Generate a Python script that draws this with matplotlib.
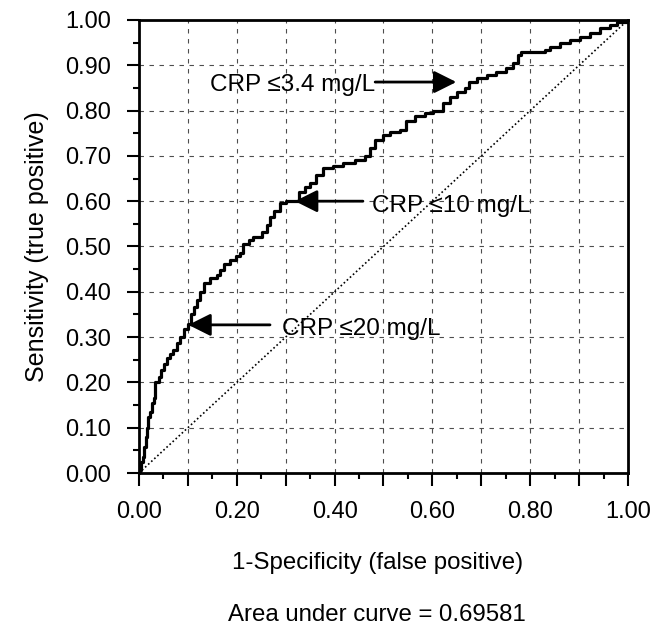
import matplotlib
matplotlib.use("Agg")
import matplotlib.pyplot as plt
from matplotlib.ticker import MultipleLocator, FixedLocator, FixedFormatter

plt.rcParams['font.family'] = ['Liberation Sans', 'DejaVu Sans']

# ROC curve (1-specificity, sensitivity)
fpr = [0.000, 0.002, 0.004, 0.008, 0.010, 0.014, 0.016, 0.019, 0.022, 0.026,
       0.030, 0.033, 0.040, 0.046, 0.052, 0.057, 0.064, 0.070, 0.077, 0.084,
       0.092, 0.100, 0.106, 0.112, 0.118, 0.125, 0.132, 0.145, 0.159, 0.166,
       0.173, 0.186, 0.198, 0.207, 0.213, 0.224, 0.234, 0.251, 0.261, 0.268,
       0.277, 0.288, 0.300, 0.316, 0.328, 0.340, 0.350, 0.363, 0.377, 0.397,
       0.418, 0.442, 0.462, 0.472, 0.483, 0.500, 0.513, 0.534, 0.547, 0.564,
       0.585, 0.602, 0.622, 0.636, 0.650, 0.667, 0.674, 0.691, 0.711, 0.731,
       0.751, 0.765, 0.775, 0.782, 0.806, 0.830, 0.840, 0.861, 0.881, 0.902,
       0.922, 0.943, 0.963, 0.977, 1.000]
tpr = [0.000, 0.007, 0.025, 0.035, 0.058, 0.080, 0.100, 0.124, 0.135, 0.154,
       0.165, 0.200, 0.212, 0.227, 0.240, 0.253, 0.262, 0.271, 0.287, 0.300,
       0.318, 0.330, 0.350, 0.366, 0.382, 0.400, 0.419, 0.430, 0.437, 0.448,
       0.461, 0.470, 0.478, 0.485, 0.505, 0.515, 0.522, 0.533, 0.547, 0.565,
       0.578, 0.595, 0.600, 0.600, 0.621, 0.632, 0.640, 0.658, 0.673, 0.678,
       0.684, 0.691, 0.700, 0.717, 0.735, 0.746, 0.753, 0.757, 0.776, 0.787,
       0.794, 0.800, 0.816, 0.829, 0.842, 0.849, 0.864, 0.871, 0.879, 0.886,
       0.893, 0.904, 0.923, 0.930, 0.930, 0.934, 0.941, 0.949, 0.956, 0.963,
       0.972, 0.982, 0.989, 0.996, 1.000]

# cut-off annotations: label, arrow tip, arrow tail, text start
cut_labels = ["CRP \u22643.4 mg/L", "CRP \u226410 mg/L", "CRP \u226420 mg/L"]
cut_tips = [(0.649, 0.863), (0.319, 0.600), (0.101, 0.327)]
cut_tails = [(0.483, 0.863), (0.458, 0.600), (0.268, 0.327)]
cut_text = [(0.145, 0.856), (0.476, 0.590), (0.292, 0.318)]

ticks = [0.0, 0.1, 0.2, 0.3, 0.4, 0.5, 0.6, 0.7, 0.8, 0.9, 1.0]
x_tick_labels = ["0.00", "", "0.20", "", "0.40", "", "0.60", "", "0.80", "", "1.00"]
y_tick_labels = ["0.00", "0.10", "0.20", "0.30", "0.40", "0.50",
                 "0.60", "0.70", "0.80", "0.90", "1.00"]
auc_text = "Area under curve = 0.69581"

fig = plt.figure(figsize=(6.54, 6.28), dpi=100)
ax = fig.add_axes([0.2125, 0.2468, 0.7477, 0.7214])

ax.plot([0, 1], [0, 1], color='black', lw=1.2, ls=(0, (1, 1.5)))
ax.plot(fpr, tpr, color='black', lw=2.3, drawstyle='steps-post')

for lab, tip, tail, tx in zip(cut_labels, cut_tips, cut_tails, cut_text):
    ax.annotate("", xy=tip, xytext=tail,
                arrowprops=dict(arrowstyle='-|>', color='black', lw=2,
                                mutation_scale=34, shrinkA=0, shrinkB=0))
    ax.text(tx[0], tx[1], lab, fontsize=17.5, ha='left', va='center')

ax.set_xlim(0, 1)
ax.set_ylim(0, 1)
ax.xaxis.set_major_locator(FixedLocator(ticks))
ax.xaxis.set_major_formatter(FixedFormatter(x_tick_labels))
ax.yaxis.set_major_locator(FixedLocator(ticks))
ax.yaxis.set_major_formatter(FixedFormatter(y_tick_labels))
ax.xaxis.set_minor_locator(MultipleLocator(0.05))
ax.yaxis.set_minor_locator(MultipleLocator(0.05))
ax.tick_params(which='major', direction='out', length=9, width=1.5,
               labelsize=17, pad=11)
ax.tick_params(which='minor', direction='out', length=4.5, width=1.5)

for y in ticks[1:-1]:
    ax.axhline(y, color='0.3', lw=0.8, ls=(0, (4, 5)), zorder=0)
    ax.axvline(y, color='0.3', lw=0.8, ls=(0, (4, 5)), zorder=0)

for s in ax.spines.values():
    s.set_linewidth(2)

ax.set_ylabel("Sensitivity (true positive)", fontsize=18, labelpad=12)
fig.text(0.577, 0.104, "1-Specificity (false positive)", fontsize=17.3,
         ha='center', va='center')
fig.text(0.577, 0.021, auc_text, fontsize=17.3, ha='center', va='center')

fig.savefig("out.png", dpi=100)
